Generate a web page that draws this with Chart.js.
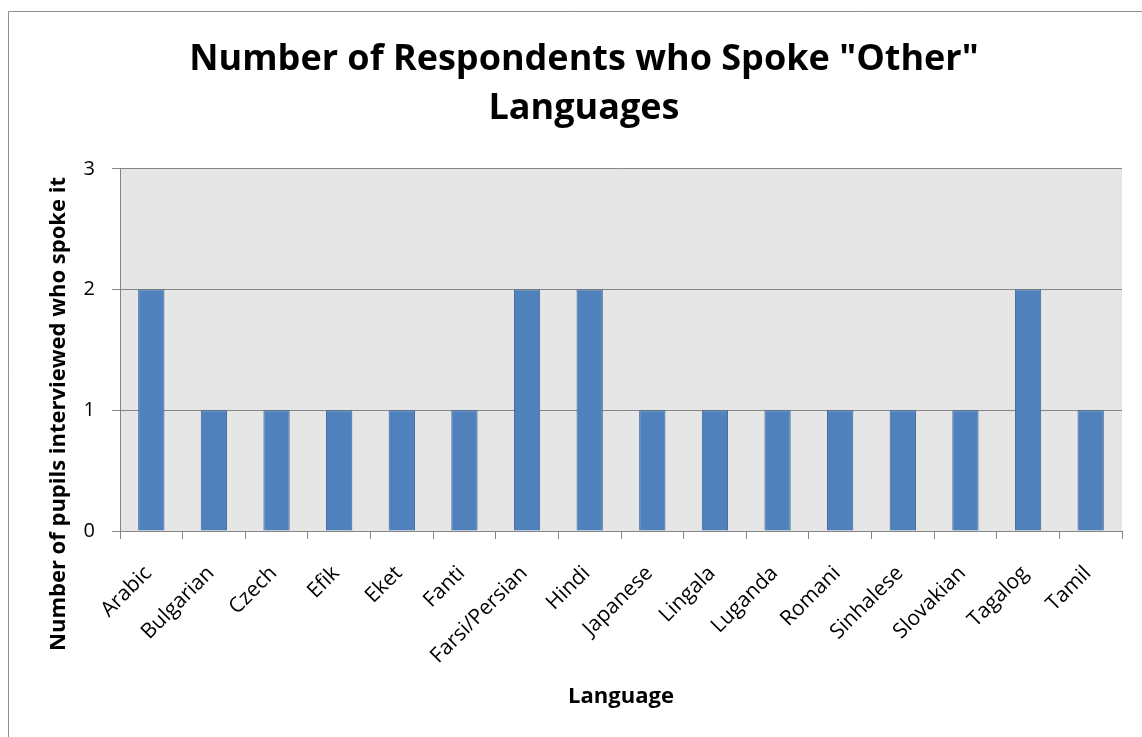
<!DOCTYPE html>
<html>
<head>
<meta charset="utf-8">
<script src="https://cdn.jsdelivr.net/npm/chart.js@4/dist/chart.umd.min.js"></script>
<style>
  html, body { margin: 0; padding: 0; background: #fff; }
  #wrap { width: 1142px; height: 737px; position: relative; }
</style>
</head>
<body>
<div id="wrap"><canvas id="langChart" width="1142" height="737"></canvas></div>
<script>
const languages = ['Arabic', 'Bulgarian', 'Czech', 'Efik', 'Eket', 'Fanti', 'Farsi/Persian', 'Hindi',
    'Japanese', 'Lingala', 'Luganda', 'Romani', 'Sinhalese', 'Slovakian', 'Tagalog', 'Tamil'];
const respondents = [2, 1, 1, 1, 1, 1, 2, 2, 1, 1, 1, 1, 1, 1, 2, 1];
const yTicks = [0, 1, 2, 3];
const yTitle = 'Number of pupils interviewed who spoke it';

const FONT = "'Open Sans', 'Liberation Sans', sans-serif";
const GRID = '#868686';

// white page, outer frame and grey plot background
const framePlugin = {
    id: 'frame',
    beforeDraw(chart) {
        const ctx = chart.ctx;
        const a = chart.chartArea;
        ctx.save();
        ctx.fillStyle = '#fff';
        ctx.fillRect(0, 0, chart.width, chart.height);
        ctx.strokeStyle = '#8f8f8f';
        ctx.lineWidth = 1;
        ctx.beginPath();
        ctx.moveTo(8.5, chart.height);
        ctx.lineTo(8.5, 11.5);
        ctx.lineTo(chart.width, 11.5);
        ctx.stroke();
        ctx.fillStyle = '#e6e6e6';
        ctx.fillRect(a.left, a.top, a.right - a.left, a.bottom - a.top);
        ctx.restore();
    }
};

// vertical axis title, sits a bit lower than the plot's middle
const yTitlePlugin = {
    id: 'yTitle',
    afterDraw(chart) {
        const ctx = chart.ctx;
        ctx.save();
        ctx.translate(59, 414);
        ctx.rotate(-Math.PI / 2);
        ctx.font = `bold 22px ${FONT}`;
        ctx.fillStyle = '#000';
        ctx.textAlign = 'center';
        ctx.textBaseline = 'middle';
        ctx.fillText(yTitle, 0, 0);
        ctx.restore();
    }
};

new Chart(document.getElementById('langChart'), {
    type: 'bar',
    data: {
        labels: languages,
        datasets: [{
            data: respondents,
            backgroundColor: '#4f81bd',
            borderColor: '#3b6496',
            borderWidth: 1,
            barPercentage: 0.42,
            categoryPercentage: 1
        }]
    },
    plugins: [framePlugin, yTitlePlugin],
    options: {
        responsive: false,
        animation: false,
        layout: { padding: { left: 46, right: 20, top: 0, bottom: 27 } },
        plugins: {
            legend: { display: false },
            tooltip: { enabled: false },
            title: {
                display: true,
                text: ['Number of Respondents who Spoke "Other"', 'Languages'],
                color: '#000',
                font: { family: FONT, size: 36, weight: 'bold', lineHeight: 1.36 },
                padding: { top: 35, bottom: 36 }
            }
        },
        scales: {
            x: {
                grid: { drawOnChartArea: false, drawTicks: true, tickLength: 8, color: GRID, offset: true },
                border: { color: GRID, width: 1 },
                ticks: {
                    color: '#000', font: { family: FONT, size: 21 },
                    maxRotation: 45, minRotation: 45, padding: 22, labelOffset: -3, autoSkip: false
                },
                title: {
                    display: true, text: 'Language', color: '#000',
                    font: { family: FONT, size: 22, weight: 'bold' },
                    padding: { top: 0, bottom: 0 }
                },
                afterFit(scale) { scale.height = 179; }
            },
            y: {
                min: yTicks[0],
                max: yTicks[yTicks.length - 1],
                grid: { color: GRID, tickLength: 8, drawTicks: true },
                border: { color: GRID, width: 1 },
                afterBuildTicks(scale) { scale.ticks = yTicks.map(v => ({ value: v })); },
                ticks: { color: '#000', font: { family: FONT, size: 20 }, padding: 17 },
                afterFit(scale) { scale.width = 74; }
            }
        }
    }
});
</script>
</body>
</html>
